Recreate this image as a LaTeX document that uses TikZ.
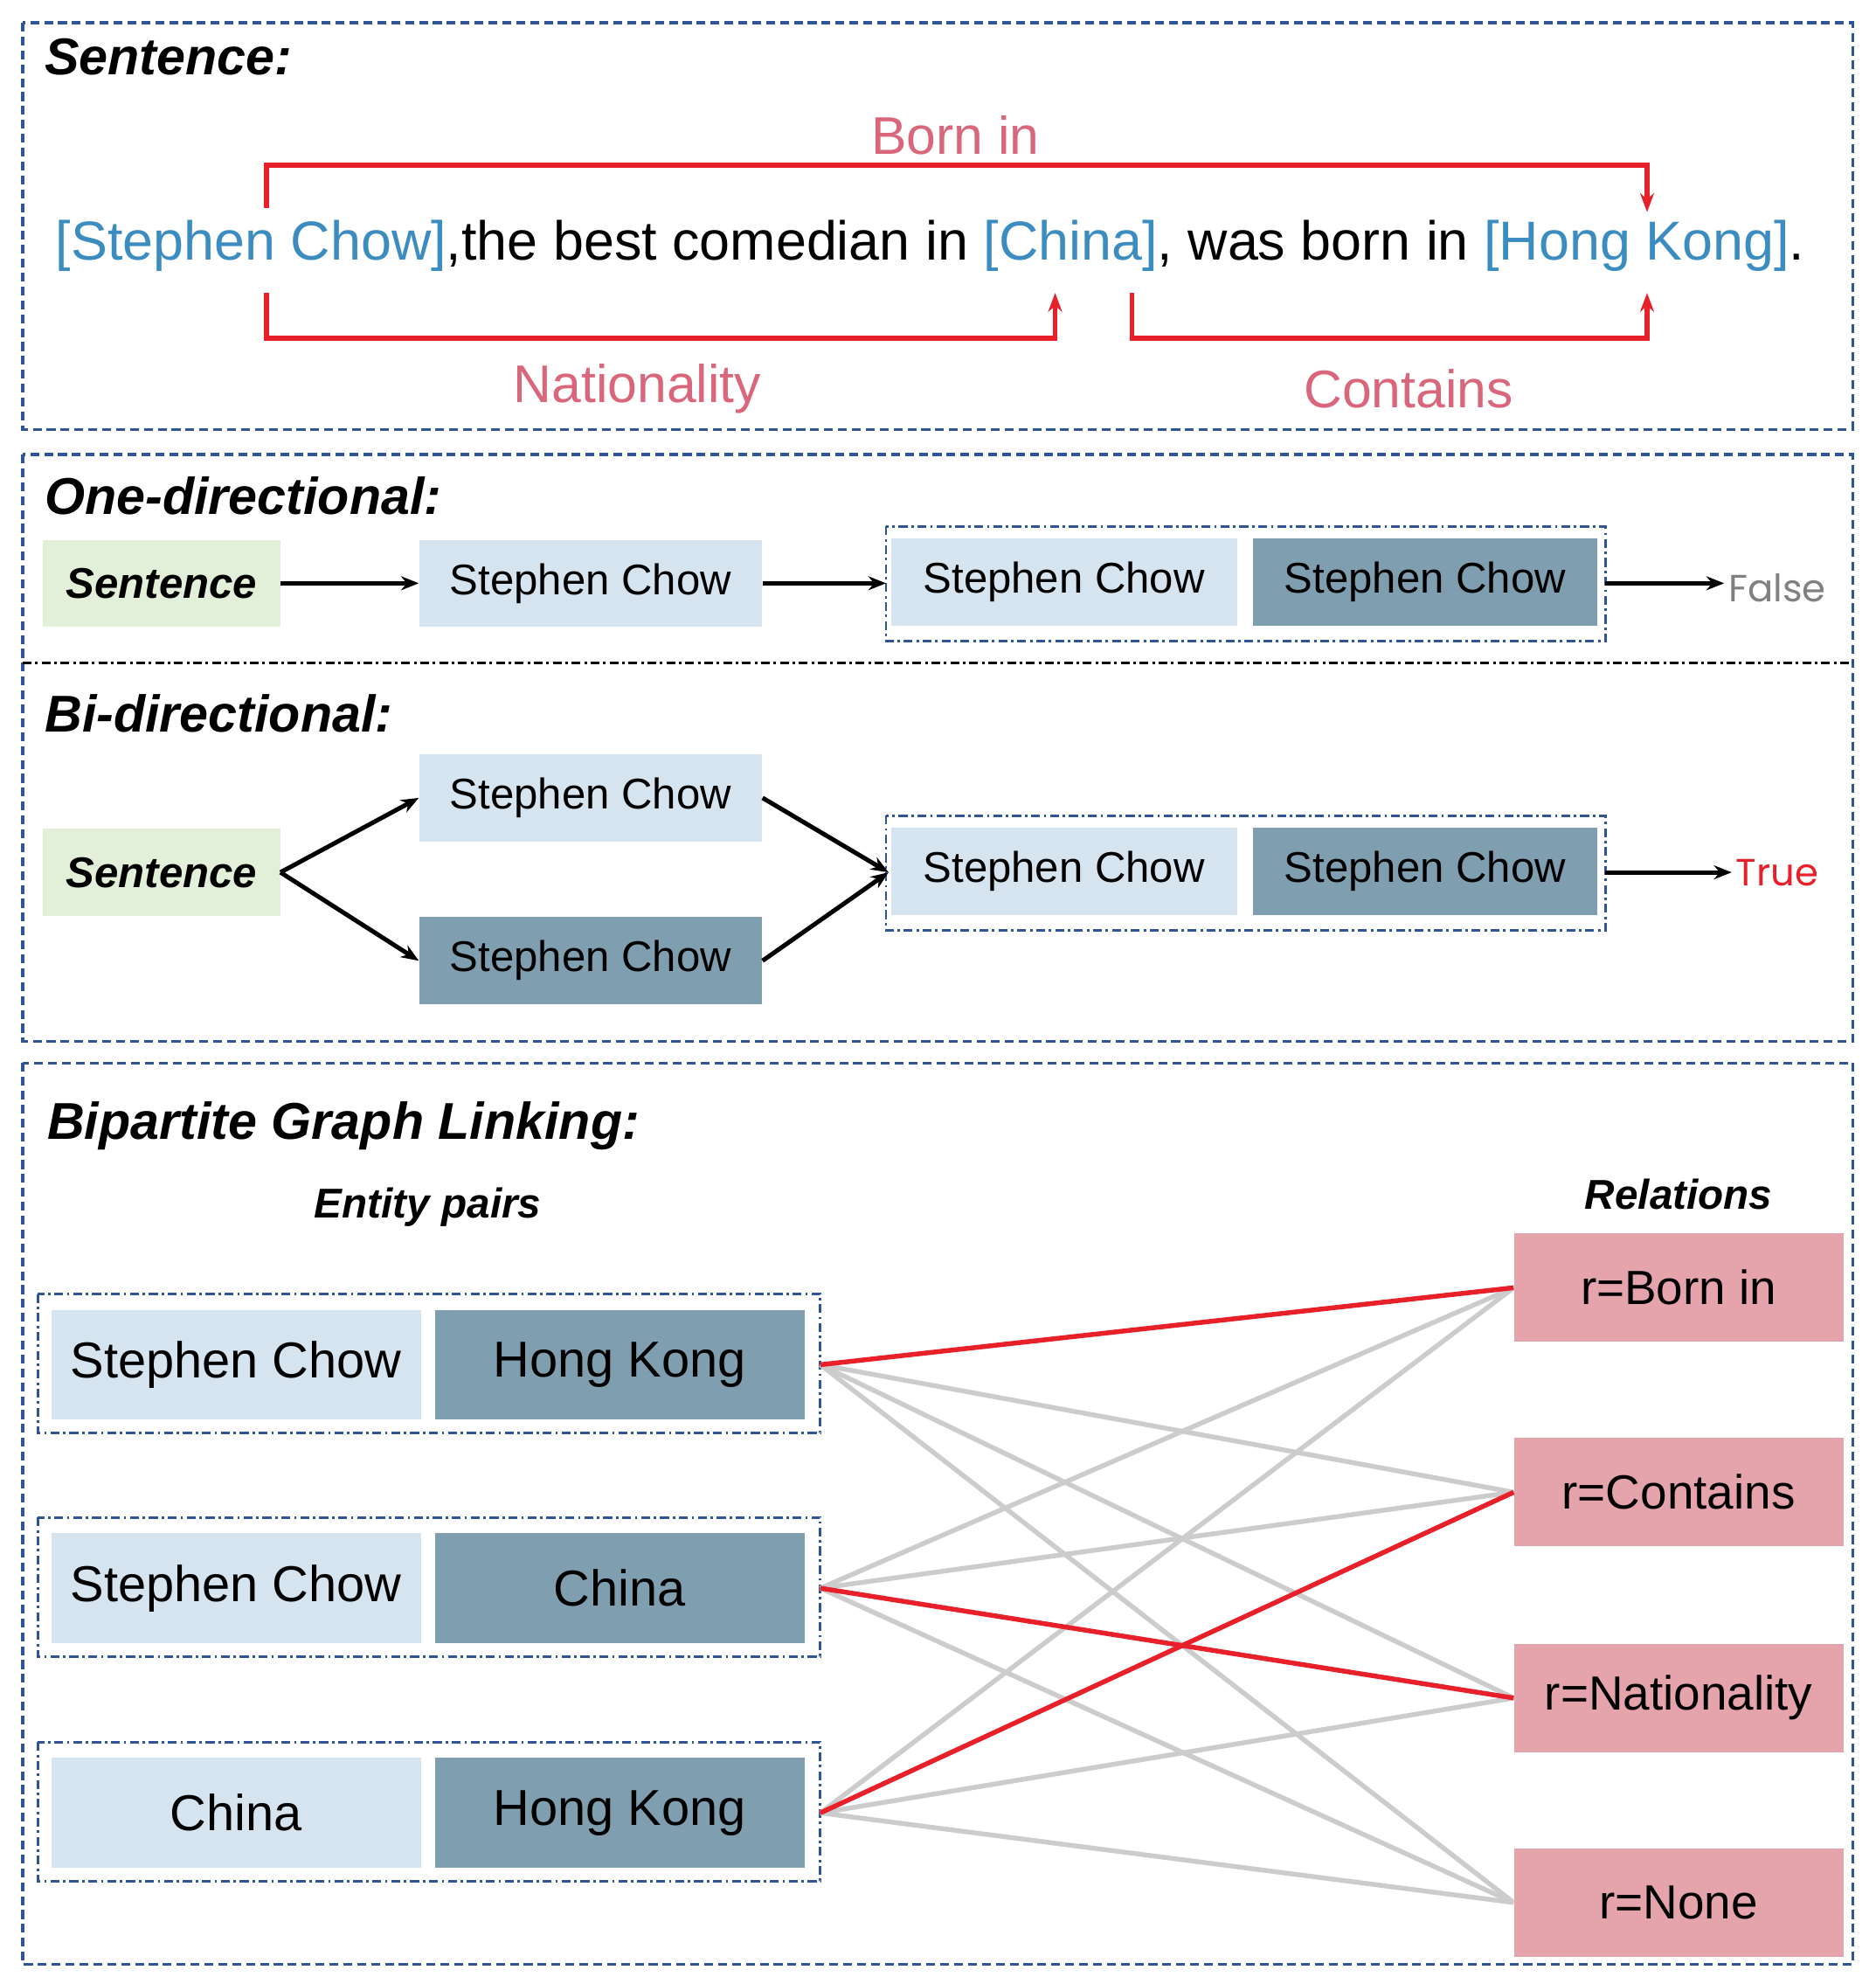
\documentclass[tikz,border=0pt]{standalone}
\usepackage{fontspec}
\setmainfont{Liberation Sans}
\newfontfamily\gothic{Poppins}
\usetikzlibrary{arrows.meta}
\definecolor{lb}{HTML}{D5E4EE}
\definecolor{db}{HTML}{7F9FB0}
\definecolor{gr}{HTML}{E2F0D9}
\definecolor{pk}{HTML}{E5A3AC}
\definecolor{fr}{HTML}{2F5597}
\definecolor{ent}{HTML}{3B8CC0}
\definecolor{rr}{HTML}{E8202A}
\definecolor{lab}{HTML}{D9667A}
\definecolor{gl}{HTML}{CCCCCC}
\begin{document}
\begin{tikzpicture}[x=1pt,y=-1pt,
 frame/.style={draw=fr,dash pattern=on 7pt off 4pt,line width=2.2pt},
 grp/.style={draw=fr,dash pattern=on 7pt off 3pt on 2pt off 3pt,line width=2pt},
 box/.style={minimum width=#1,minimum height=69pt,inner sep=0pt,font=\fontsize{34}{38}\selectfont},
 big/.style={minimum width=293pt,minimum height=87pt,inner sep=0pt,font=\fontsize{40}{44}\selectfont},
 rel/.style={fill=pk,minimum width=261pt,minimum height=86pt,inner sep=0pt,font=\fontsize{38}{42}\selectfont},
 ttl/.style={anchor=west,font=\fontsize{41}{45}\selectfont\bfseries\itshape},
 arr/.style={-{Stealth[length=14pt,width=11pt]},line width=3.5pt},
 rarr/.style={rr,line width=3.8pt,-{Stealth[length=15pt,width=11pt]}},
 gline/.style={gl,line width=3.8pt},
 redline/.style={rr,line width=3.8pt}]
\useasboundingbox (0,0) rectangle (1486,1566);
% frames
\draw[frame] (18,18) rectangle (1468,340);
\draw[frame] (18,360) rectangle (1468,825);
\draw[dash pattern=on 7pt off 3pt on 2pt off 3pt,line width=2.2pt] (18,525) -- (1468,525);
\draw[frame] (18,842) rectangle (1468,1556);
% sentence
\node[ttl] (t1) at (32,45) {Sentence:};
\node[anchor=west,inner sep=0pt,font=\fontsize{43.5}{48}\selectfont] (s) at (44,195)
 {\textcolor{ent}{[Stephen Chow]},the best comedian in \textcolor{ent}{[China]}, was born in \textcolor{ent}{[Hong Kong]}.};
\coordinate (a1) at (211,165); \coordinate (a2) at (1305,168);
\draw[rarr] (a1) |- (757,131) -| (a2);
\coordinate (b1) at (211,232); \coordinate (b2) at (836,232);
\draw[rarr] (b1) |- (520,268) -| (b2);
\coordinate (c1) at (897,232); \coordinate (c2) at (1305,232);
\draw[rarr] (c1) |- (1100,268) -| (c2);
\node[lab,font=\fontsize{42}{46}\selectfont] (lb1) at (757,107) {Born in};
\node[lab,font=\fontsize{42}{46}\selectfont] (lb2) at (505,308) {Nationality};
\node[lab,font=\fontsize{42}{46}\selectfont] (lb3) at (1116,308) {Contains};
% one-directional
\node[ttl] (t2) at (32,393) {One-directional:};
\node[box=188pt,fill=gr,font=\fontsize{34}{38}\selectfont\bfseries\itshape] (o1) at (128,462) {Sentence};
\node[box=272pt,fill=lb] (o2) at (468,462) {Stephen Chow};
\draw[grp] (702,417) rectangle (1272,508);
\node[box=274pt,fill=lb] (o3) at (843,461) {Stephen Chow};
\node[box=273pt,fill=db] (o4) at (1129,461) {Stephen Chow};
\coordinate (g1e) at (1272,462);
\node[anchor=west,gray,font=\fontsize{30}{34}\selectfont\gothic] (f) at (1366,466) {False};
\draw[arr] (o1) -- (o2);
\draw[arr] (o2.east) -- (702,462);
\draw[arr] (g1e) -- (g1e -| f.west);
% bi-directional
\node[ttl] (t3) at (32,565) {Bi-directional:};
\node[box=188pt,fill=gr,font=\fontsize{34}{38}\selectfont\bfseries\itshape] (b0) at (128,691) {Sentence};
\node[box=272pt,fill=lb] (bu) at (468,632) {Stephen Chow};
\node[box=272pt,fill=db] (bd) at (468,761) {Stephen Chow};
\draw[grp] (702,646) rectangle (1272,737);
\node[box=274pt,fill=lb] (b3) at (843,690) {Stephen Chow};
\node[box=273pt,fill=db] (b4) at (1129,690) {Stephen Chow};
\coordinate (bin) at (704,691);
\coordinate (g2e) at (1272,691);
\node[anchor=west,rr,font=\fontsize{30}{34}\selectfont\gothic] (tr) at (1372,691) {True};
\draw[arr] (b0.east) -- (bu.west);
\draw[arr] (b0.east) -- (bd.west);
\draw[arr] (bu.east) -- (bin);
\draw[arr] (bd.east) -- (bin);
\draw[arr] (g2e) -- (g2e -| tr.west);
% bipartite
\node[ttl] (t4) at (34,892) {Bipartite Graph Linking:};
\node[font=\fontsize{33}{37}\selectfont\bfseries\itshape] (ep) at (339,956) {Entity pairs};
\node[font=\fontsize{33}{37}\selectfont\bfseries\itshape] (rl) at (1330,946) {Relations};
\draw[grp] (30,1025) rectangle (650,1135);
\draw[grp] (30,1202) rectangle (650,1312);
\draw[grp] (30,1380) rectangle (650,1490);
\node[big,fill=lb] at (187,1081) {Stephen Chow};
\node[big,fill=db] at (491,1081) {Hong Kong};
\node[big,fill=lb] at (187,1258) {Stephen Chow};
\node[big,fill=db] at (491,1258) {China};
\node[big,fill=lb] at (187,1436) {China};
\node[big,fill=db] at (491,1436) {Hong Kong};
\coordinate (p1) at (650,1081);
\coordinate (p2) at (650,1258);
\coordinate (p3) at (650,1436);
\node[rel] (r1) at (1330,1020) {r=Born in};
\node[rel] (r2) at (1330,1182) {r=Contains};
\node[rel] (r3) at (1330,1345) {r=Nationality};
\node[rel] (r4) at (1330,1507) {r=None};
\foreach \p/\r in {p1/r2,p1/r3,p1/r4,p2/r1,p2/r2,p2/r4,p3/r1,p3/r3,p3/r4}
  \draw[gline] (\p) -- (\r.west);
\draw[redline] (p1) -- (r1.west);
\draw[redline] (p2) -- (r3.west);
\draw[redline] (p3) -- (r2.west);
\end{tikzpicture}
\end{document}
